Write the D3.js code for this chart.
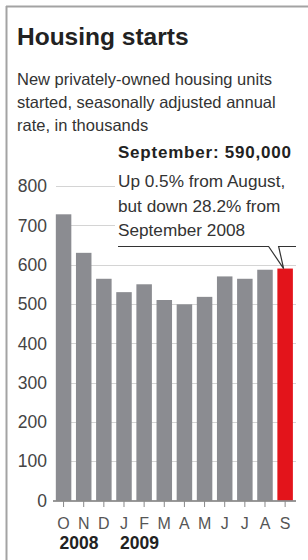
<!DOCTYPE html>
<html>
<head>
<meta charset="utf-8">
<script src="https://cdn.jsdelivr.net/npm/d3@7"></script>
<style>
  body { margin: 0; background: #fff; }
  text { font-family: "Liberation Sans", Arial, sans-serif; }
</style>
</head>
<body>
<script>
// data
var months = ["O", "N", "D", "J", "F", "M", "A", "M", "J", "J", "A", "S"];
var monthKeys = ["2008-10", "2008-11", "2008-12", "2009-01", "2009-02", "2009-03",
                 "2009-04", "2009-05", "2009-06", "2009-07", "2009-08", "2009-09"];
var starts = [728, 630, 564, 530, 550, 510, 499, 518, 570, 564, 587, 590];
var yTicks = [0, 100, 200, 300, 400, 500, 600, 700, 800];
var years = [{label: "2008", key: "2008-10"}, {label: "2009", key: "2009-01"}];
var subtitle = ["New privately-owned housing units",
                "started, seasonally adjusted annual",
                "rate, in thousands"];
var note = ["Up 0.5% from August,", "but down 28.2% from", "September 2008"];

var W = 308, H = 560;
var svg = d3.select("body").append("svg")
    .attr("width", W)
    .attr("height", H);

// frame: top and left rules only
svg.append("line").attr("x1", 6).attr("x2", W).attr("y1", 6.5).attr("y2", 6.5)
    .attr("stroke", "#a3a3a3").attr("stroke-width", 2);
svg.append("line").attr("x1", 6.5).attr("x2", 6.5).attr("y1", 6).attr("y2", H)
    .attr("stroke", "#a3a3a3").attr("stroke-width", 2);

// title + subtitle
svg.append("text")
    .attr("x", 17).attr("y", 45)
    .style("font-size", "24.5px").style("font-weight", "bold").style("fill", "#222")
    .text("Housing starts");

svg.append("g").selectAll("text")
    .data(subtitle)
  .enter().append("text")
    .attr("x", 17)
    .attr("y", function(d, i) { return 85 + i * 23; })
    .style("font-size", "16.5px").style("fill", "#333")
    .text(function(d) { return d; });

// scales
var x = d3.scaleBand()
    .domain(monthKeys)
    .range([53.5, 295.2])
    .paddingInner(0.23)
    .paddingOuter(0.115);

var y = d3.scaleLinear()
    .domain([0, 800])
    .range([500.5, 186]);

var data = monthKeys.map(function(k, i) { return {key: k, month: months[i], value: starts[i]}; });

// gridlines
svg.append("g").selectAll("line")
    .data(yTicks.filter(function(d) { return d > 0; }))
  .enter().append("line")
    .attr("x1", 56).attr("x2", 296)
    .attr("y1", function(d) { return Math.round(y(d)) + 0.5; })
    .attr("y2", function(d) { return Math.round(y(d)) + 0.5; })
    .attr("stroke", "#d4d4d4").attr("stroke-width", 1);

// y labels
svg.append("g").selectAll("text")
    .data(yTicks)
  .enter().append("text")
    .attr("x", 47)
    .attr("y", function(d) { return y(d); })
    .attr("dy", "0.36em")
    .attr("text-anchor", "end")
    .style("font-size", "17.5px").style("fill", "#444")
    .text(function(d) { return d; });

// bars
svg.append("g").selectAll("rect")
    .data(data)
  .enter().append("rect")
    .attr("x", function(d) { return x(d.key); })
    .attr("width", x.bandwidth())
    .attr("y", function(d) { return y(d.value); })
    .attr("height", function(d) { return y(0) - y(d.value); })
    .attr("fill", function(d, i) { return i === data.length - 1 ? "#e3141b" : "#8b8c91"; });

// baseline axis with ticks
var xAxis = svg.append("g")
    .attr("transform", "translate(0," + Math.round(y(0)) + ")");
xAxis.append("line")
    .attr("x1", 53).attr("x2", 296)
    .attr("stroke", "#777").attr("stroke-width", 1.5);
xAxis.selectAll(".tick")
    .data(data)
  .enter().append("line")
    .attr("class", "tick")
    .attr("x1", function(d) { return x(d.key) + x.bandwidth() / 2; })
    .attr("x2", function(d) { return x(d.key) + x.bandwidth() / 2; })
    .attr("y1", 0).attr("y2", 6)
    .attr("stroke", "#888").attr("stroke-width", 1);
xAxis.selectAll(".mlabel")
    .data(data)
  .enter().append("text")
    .attr("class", "mlabel")
    .attr("x", function(d) { return x(d.key) + x.bandwidth() / 2; })
    .attr("y", 28)
    .attr("text-anchor", "middle")
    .style("font-size", "16px").style("fill", "#555")
    .text(function(d) { return d.month; });
xAxis.selectAll(".ylabel")
    .data(years)
  .enter().append("text")
    .attr("class", "ylabel")
    .attr("x", function(d) { return x(d.key) + x.bandwidth() / 2 - 4; })
    .attr("y", 48)
    .style("font-size", "17.5px").style("font-weight", "bold").style("fill", "#222")
    .text(function(d) { return d.label; });

// annotation
var last = data[data.length - 1];
svg.append("rect")
    .attr("x", 115).attr("y", 140).attr("width", 185).attr("height", 102)
    .attr("fill", "#fff");
svg.append("text")
    .attr("x", 118).attr("y", 158)
    .attr("textLength", 173).attr("lengthAdjust", "spacing")
    .style("font-size", "17px").style("font-weight", "bold").style("fill", "#222")
    .text("September: 590,000");
svg.append("g").selectAll("text")
    .data(note)
  .enter().append("text")
    .attr("x", 118)
    .attr("y", function(d, i) { return 187 + i * 24.5; })
    .style("font-size", "17.2px").style("fill", "#333")
    .text(function(d) { return d; });

var tipX = x(last.key) + x.bandwidth() / 2 - 1.5,
    tipY = y(last.value);
svg.append("path")
    .attr("d", "M118,246.5H" + (tipX - 15) + "L" + tipX + "," + tipY +
               "L" + (tipX - 5) + ",246.5H296")
    .attr("fill", "none")
    .attr("stroke", "#333").attr("stroke-width", 1.2);
</script>
</body>
</html>
